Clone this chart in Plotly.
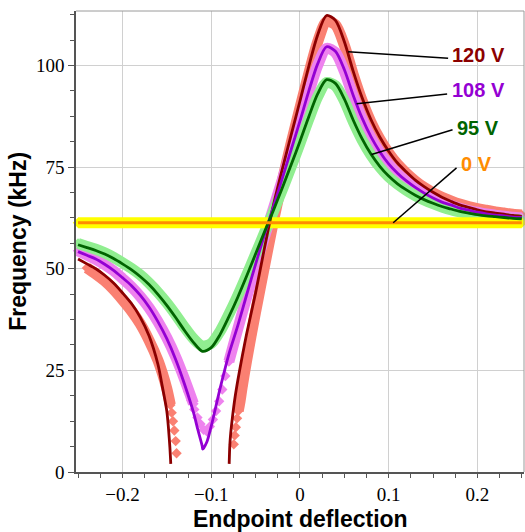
import plotly.graph_objects as go

# ---------------- data ----------------
x_grid = [-0.25, -0.24, -0.23, -0.22, -0.21, -0.20, -0.19, -0.18, -0.17, -0.16,
          -0.15, -0.14, -0.13, -0.12, -0.11, -0.10, -0.09, -0.08, -0.07, -0.06,
          -0.05, -0.04, -0.03, -0.02, -0.01, 0.00, 0.01, 0.02, 0.03, 0.04,
          0.05, 0.06, 0.07, 0.08, 0.09, 0.10, 0.11, 0.12, 0.13, 0.14,
          0.15, 0.16, 0.17, 0.18, 0.19, 0.20, 0.21, 0.22, 0.23, 0.24, 0.25]

# 95 V
green_theory = [55.9, 55.2, 54.5, 53.6, 52.5, 51.2, 49.8, 48.1, 46.1, 43.7,
                41.0, 38.0, 34.8, 31.9, 29.7, 30.6, 33.8, 38.2, 43.0, 48.2,
                53.6, 59.0, 64.3, 69.8, 75.5, 81.3, 87.4, 93.0, 96.5, 95.6,
                91.8, 86.6, 82.0, 78.2, 75.2, 72.8, 70.9, 69.4, 68.1, 67.0,
                66.1, 65.3, 64.7, 64.1, 63.7, 63.3, 63.0, 62.8, 62.6, 62.4, 62.3]
green_data = [56.2, 55.5, 54.8, 53.9, 52.8, 51.5, 50.1, 48.5, 46.5, 44.2,
              41.6, 38.7, 35.6, 32.8, 31.0, 31.6, 34.6, 38.8, 43.4, 48.4,
              53.6, 58.8, 64.0, 69.4, 75.0, 80.8, 86.8, 92.3, 95.8, 95.0,
              91.3, 86.2, 81.7, 78.0, 75.0, 72.6, 70.8, 69.3, 68.0, 66.9,
              66.0, 65.2, 64.5, 64.0, 63.5, 63.1, 62.8, 62.5, 62.3, 62.1, 62.0]

# 108 V
violet_x = [-0.25, -0.24, -0.23, -0.22, -0.21, -0.20, -0.19, -0.18, -0.17, -0.16,
            -0.15, -0.14, -0.13, -0.12, -0.115, -0.11, -0.1095, -0.105, -0.10, -0.09,
            -0.08, -0.07, -0.06, -0.05, -0.04, -0.03, -0.02, -0.01, 0.00, 0.01,
            0.02, 0.03, 0.04, 0.05, 0.06, 0.07, 0.08, 0.09, 0.10, 0.11,
            0.12, 0.13, 0.14, 0.15, 0.16, 0.17, 0.18, 0.19, 0.20, 0.21,
            0.22, 0.23, 0.24, 0.25]
violet_theory = [54.2, 53.3, 52.4, 51.1, 49.6, 47.8, 45.9, 43.5, 40.6, 37.0,
                 32.8, 27.7, 21.6, 14.7, 10.4, 6.3, 5.6, 7.3, 11.2, 20.5,
                 29.0, 36.0, 43.6, 51.1, 58.3, 65.2, 72.1, 79.2, 86.3, 93.7,
                 100.4, 104.6, 103.5, 99.0, 92.7, 87.1, 82.5, 78.8, 75.8, 73.5,
                 71.6, 70.0, 68.6, 67.4, 66.4, 65.7, 64.9, 64.4, 63.9, 63.5,
                 63.2, 63.0, 62.7, 62.6]
violet_data_x = [-0.25, -0.24, -0.23, -0.22, -0.21, -0.20, -0.19, -0.18, -0.17, -0.16,
                 -0.15, -0.14, -0.13, -0.12, -0.08, -0.07, -0.06, -0.05, -0.04, -0.03,
                 -0.02, -0.01, 0.00, 0.01, 0.02, 0.03, 0.04, 0.05, 0.06, 0.07,
                 0.08, 0.09, 0.10, 0.11, 0.12, 0.13, 0.14, 0.15, 0.16, 0.17,
                 0.18, 0.19, 0.20, 0.21, 0.22, 0.23, 0.24, 0.25]
violet_data = [54.4, 53.4, 52.3, 51.0, 49.5, 47.6, 45.6, 43.2, 40.4, 37.0,
               33.0, 28.3, 22.8, 16.8, 27.2, 35.2, 43.0, 50.6, 57.8, 64.8,
               71.8, 78.8, 86.0, 93.3, 100.0, 104.2, 103.2, 98.6, 92.4, 86.8,
               82.2, 78.6, 75.7, 73.4, 71.5, 69.9, 68.5, 67.3, 66.3, 65.6,
               64.9, 64.3, 63.9, 63.5, 63.2, 62.9, 62.7, 62.5]
# separate diamonds visible around the 108 V minimum
violet_dots_x = [-0.126, -0.1225, -0.119, -0.1155, -0.112, -0.1085, -0.105,
                 -0.1015, -0.098, -0.0945, -0.091, -0.0875, -0.084]
violet_dots = [19.8, 17.6, 15.4, 13.4, 11.8, 10.4, 10.0,
               11.2, 12.9, 15.0, 17.4, 20.3, 23.6]

# 120 V (two branches)
red_left_x = [-0.25, -0.24, -0.23, -0.22, -0.21, -0.20, -0.19, -0.18, -0.17, -0.16,
              -0.155, -0.15, -0.148, -0.1465, -0.1455]
red_left = [52.4, 51.2, 50.0, 48.4, 46.5, 44.1, 41.5, 38.1, 33.5, 26.5,
            21.0, 15.0, 10.5, 6.0, 2.0]
red_right_x = [-0.0797, -0.079, -0.078, -0.076, -0.073, -0.07, -0.065, -0.06, -0.05, -0.04,
               -0.03, -0.02, -0.01, 0.00, 0.01, 0.02, 0.03, 0.04, 0.05, 0.06,
               0.07, 0.08, 0.09, 0.10, 0.11, 0.12, 0.13, 0.14, 0.15, 0.16,
               0.17, 0.18, 0.19, 0.20, 0.21, 0.22, 0.23, 0.24, 0.25]
red_right = [2.0, 6.5, 9.5, 13.5, 18.5, 22.5, 28.5, 34.0, 44.0, 55.0,
             65.5, 74.4, 82.8, 91.2, 99.8, 107.5, 112.3, 111.1, 105.9, 98.6,
             92.1, 86.7, 82.4, 78.9, 76.0, 73.8, 71.8, 70.2, 68.8, 67.6,
             66.6, 65.7, 65.1, 64.5, 64.0, 63.7, 63.4, 63.1, 62.9]
salmon_left_x = [-0.24, -0.23, -0.22, -0.21, -0.20, -0.19, -0.18, -0.17, -0.16, -0.155,
                 -0.15, -0.146]
salmon_left = [50.2, 48.7, 47.0, 44.9, 42.4, 39.7, 36.5, 32.4, 27.5, 24.3,
               20.5, 16.5]
salmon_left_dots_x = [-0.1445, -0.1430, -0.1415, -0.1400, -0.1390]
salmon_left_dots = [14.6, 12.5, 10.2, 7.6, 4.6]
salmon_right_x = [-0.0695, -0.0676, -0.065, -0.06, -0.055, -0.05, -0.04, -0.03,
                  -0.02, -0.01, 0.00, 0.01, 0.02, 0.03, 0.04, 0.05, 0.06, 0.07,
                  0.08, 0.09, 0.10, 0.11, 0.12, 0.13, 0.14, 0.15, 0.16, 0.17,
                  0.18, 0.19, 0.20, 0.21, 0.22, 0.23, 0.24, 0.25]
salmon_right = [15.0, 17.2, 21.0, 27.5, 33.5, 39.3, 50.5, 61.5,
                71.5, 80.8, 89.5, 98.0, 105.8, 110.8, 110.0, 105.0, 97.8, 91.4,
                86.1, 81.9, 78.5, 75.7, 73.5, 71.6, 70.0, 68.7, 67.6, 66.7,
                65.9, 65.3, 64.8, 64.4, 64.0, 63.7, 63.4, 63.2]
salmon_right_dots_x = [-0.0745, -0.0735, -0.0722, -0.0708]
salmon_right_dots = [6.8, 9.0, 11.0, 13.2]

# 0 V
zero_x = [-0.25, 0.25]
zero_data = [61.3, 61.3]
zero_theory = [61.3, 61.3]

labels = ["120 V", "108 V", "95 V", "0 V"]
label_colors = ["#8B0000", "#9400D3", "#006400", "#FF8C00"]
# (curve point, line end, text position) in data coordinates
label_curve_pts = [(0.0544, 103.4), (0.0638, 90.6), (0.0807, 78.1), (0.1051, 61.3)]
label_line_ends = [(0.167, 101.8), (0.1659, 93.0), (0.172, 84.2), (0.1765, 74.8)]
label_text_pos = [(0.2014, 102.7), (0.2014, 94.0), (0.2005, 84.6), (0.1988, 75.8)]

# ---------------- figure ----------------
fig = go.Figure()

BAND_W = 11
MK = 8

def band(x, y, color):
    fig.add_trace(go.Scatter(x=x, y=y, mode="lines+markers",
                             line=dict(color=color, width=BAND_W, shape="spline", smoothing=0.8),
                             marker=dict(symbol="diamond", size=MK, color=color),
                             cliponaxis=False, hoverinfo="skip"))

def dots(x, y, color):
    fig.add_trace(go.Scatter(x=x, y=y, mode="markers",
                             marker=dict(symbol="diamond", size=MK, color=color),
                             hoverinfo="skip"))

def theory(x, y, color, w=2.8):
    fig.add_trace(go.Scatter(x=x, y=y, mode="lines",
                             line=dict(color=color, width=w, shape="spline", smoothing=0.8),
                             hoverinfo="skip"))

band(salmon_left_x, salmon_left, "#FA8072")
dots(salmon_left_dots_x, salmon_left_dots, "#FA8072")
band(salmon_right_x, salmon_right, "#FA8072")
dots(salmon_right_dots_x, salmon_right_dots, "#FA8072")
band(violet_data_x[:14], violet_data[:14], "#EE82EE")
band(violet_data_x[14:], violet_data[14:], "#EE82EE")
dots(violet_dots_x, violet_dots, "#EE82EE")
band(x_grid, green_data, "#90EE90")
band(zero_x, zero_data, "#FFFF00")

theory(red_left_x, red_left, "#8B0000")
theory(red_right_x, red_right, "#8B0000")
theory(violet_x, violet_theory, "#9400D3")
theory(x_grid, green_theory, "#006400")
theory(zero_x, zero_theory, "#FF8C00", 3)

for (cx, cy), (ex, ey) in zip(label_curve_pts, label_line_ends):
    fig.add_shape(type="line", x0=cx, y0=cy, x1=ex, y1=ey, xref="x", yref="y",
                  line=dict(color="black", width=1.5))

for txt, col, (tx, ty) in zip(labels, label_colors, label_text_pos):
    fig.add_annotation(x=tx, y=ty, xref="x", yref="y", text="<b>%s</b>" % txt,
                       showarrow=False, font=dict(family="Liberation Sans", size=20, color=col))

# border top / right
fig.add_shape(type="line", xref="paper", yref="paper", x0=0, y0=1, x1=1, y1=1,
              line=dict(color="#9a9a9a", width=1))
fig.add_shape(type="line", xref="paper", yref="paper", x0=1, y0=0, x1=1, y1=1,
              line=dict(color="#9a9a9a", width=1))

tickfont = dict(family="Liberation Serif", size=19, color="black")
fig.update_xaxes(range=[-0.2523, 0.2525], dtick=0.1, tick0=0, showgrid=True,
                 gridcolor="#d0d0d0", gridwidth=1, zeroline=False,
                 showline=True, linecolor="#555555", linewidth=1.5,
                 ticks="outside", ticklen=4, tickcolor="#555555", tickfont=tickfont,
                 minor=dict(dtick=0.025, tick0=0, ticks="outside", ticklen=4,
                            tickcolor="#555555", showgrid=False))
fig.update_yaxes(range=[0, 113.4], dtick=25, tick0=0, showgrid=True,
                 gridcolor="#d0d0d0", gridwidth=1, zeroline=False,
                 showline=True, linecolor="#555555", linewidth=1.5,
                 ticks="outside", ticklen=6, tickcolor="#555555", tickfont=tickfont,
                 minor=dict(dtick=6.25, tick0=0, ticks="outside", ticklen=4,
                            tickcolor="#555555", showgrid=False))

fig.add_annotation(xref="paper", yref="paper", x=0.5, y=-0.101, xanchor="center", yanchor="middle",
                   text="<b>Endpoint deflection</b>", showarrow=False,
                   font=dict(family="Liberation Sans", size=23, color="black"))
fig.add_annotation(xref="paper", yref="paper", x=-0.131, y=0.5, xanchor="center", yanchor="middle",
                   textangle=-90,
                   text="<b>Frequency (kHz)</b>", showarrow=False,
                   font=dict(family="Liberation Sans", size=23, color="black"))

fig.update_layout(width=525, height=532, margin=dict(l=76, r=1, t=11, b=60),
                  plot_bgcolor="white", paper_bgcolor="white", showlegend=False)

fig.write_html("out.html")
